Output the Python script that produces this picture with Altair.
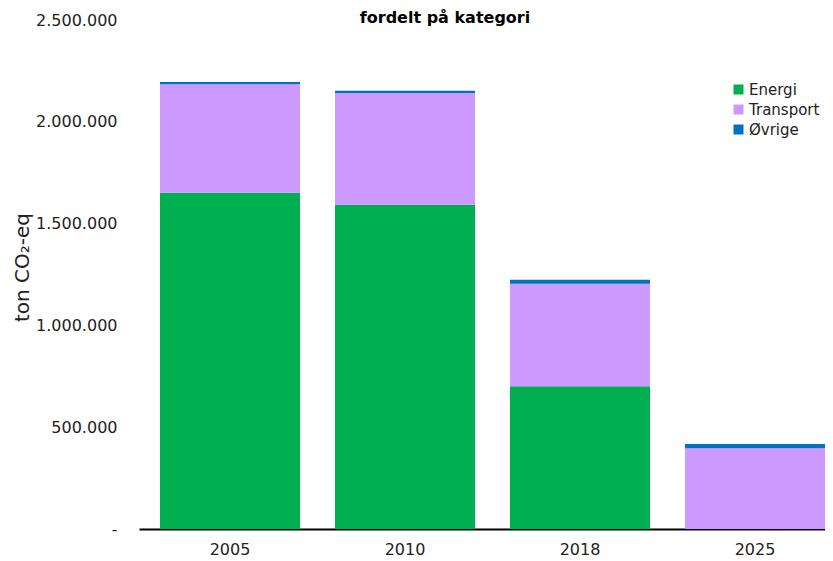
import altair as alt
import pandas as pd

years = ["2005", "2010", "2018", "2025"]
categories = ["Energi", "Transport", "Øvrige"]
energi = [1652000, 1593000, 701000, 0]
transport = [532000, 549000, 503000, 397000]
ovrige = [11000, 11000, 20000, 20000]
colors = ["#00B050", "#CC99FF", "#0070C0"]

rows = []
for i, y in enumerate(years):
    for k, (cat, vals) in enumerate(zip(categories, [energi, transport, ovrige])):
        rows.append({"year": y, "kategori": cat, "value": vals[i], "ord": k})
df = pd.DataFrame(rows)

FONT = "DejaVu Sans"

label_expr = "datum.value == 0 ? '-' : replace(format(datum.value, ','), regexp(',', 'g'), '.')"

chart = (
    alt.Chart(df)
    .mark_bar()
    .encode(
        x=alt.X(
            "year:N",
            sort=years,
            scale=alt.Scale(paddingInner=0.2, paddingOuter=0.06, align=1),
            axis=alt.Axis(
                title=None,
                labelAngle=0,
                ticks=False,
                labelPadding=12,
                labelFontSize=16,
                labelFont=FONT,
                labelColor="#222222",
                domainColor="#000000",
                domainWidth=2,
                grid=False,
            ),
        ),
        y=alt.Y(
            "value:Q",
            stack="zero",
            scale=alt.Scale(domain=[0, 2500000], nice=False),
            axis=alt.Axis(
                title="ton CO₂-eq",
                values=[0, 500000, 1000000, 1500000, 2000000, 2500000],
                labelExpr=label_expr,
                ticks=False,
                domain=False,
                grid=False,
                labelPadding=22,
                labelFontSize=16,
                labelFont=FONT,
                labelColor="#222222",
                titleFont=FONT,
                titleFontSize=20,
                titleFontWeight="normal",
                titleColor="#222222",
                titleX=-117,
                titleY=247,
                titleAngle=-90,
                titleAlign="center",
                titleBaseline="middle",
            ),
        ),
        color=alt.Color(
            "kategori:N",
            scale=alt.Scale(domain=categories, range=colors),
            legend=alt.Legend(
                title=None,
                orient="none",
                legendX=592,
                legendY=62,
                padding=0,
                symbolType="square",
                symbolSize=100,
                symbolStrokeWidth=0,
                labelFont=FONT,
                labelFontSize=15,
                labelColor="#222222",
                labelOffset=3,
                rowPadding=4,
            ),
        ),
        order=alt.Order("ord:Q"),
    )
    .properties(
        width=686,
        height=509,
        autosize=alt.AutoSizeParams(type="none"),
        padding={"left": 131, "top": 12, "right": 0, "bottom": 32},
        title=alt.TitleParams(
            "fordelt på kategori",
            font=FONT,
            fontSize=16,
            fontWeight="bold",
            color="#000000",
            anchor="middle",
            frame="group",
            dx=-37,
            offset=0,
            dy=27,
            baseline="alphabetic",
        ),
    )
    .configure_view(stroke=None)
    .configure_bar(strokeWidth=0)
)

chart.save("out.html", embed_options={"renderer": "svg", "actions": False})
